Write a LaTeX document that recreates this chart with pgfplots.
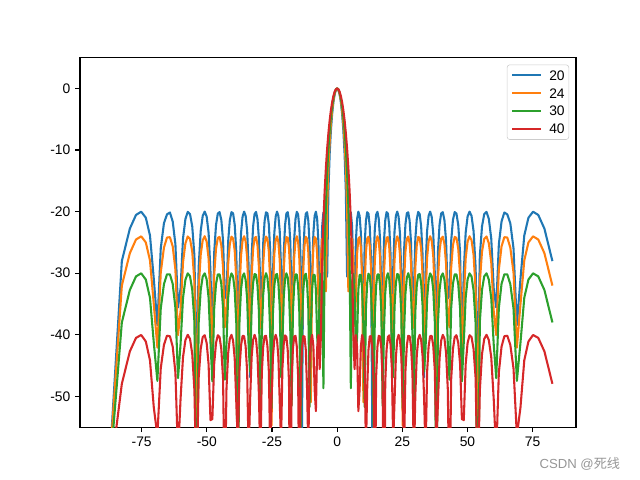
\documentclass[border=0pt]{standalone}
\usepackage{fontspec}
\setmainfont{Liberation Sans}
\newfontfamily\cjk{Noto Sans CJK SC}
\usepackage{pgfplots}
\usepackage{pgfplotstable}
\pgfplotsset{compat=1.18}
\definecolor{c0}{HTML}{1F77B4}
\definecolor{c1}{HTML}{FF7F0E}
\definecolor{c2}{HTML}{2CA02C}
\definecolor{c3}{HTML}{D62728}
\pgfplotstableread{
x a b c d
-90 -80 -78 -77 -73
-82.598 -28.04 -32.02 -38.00 -47.96
-79.525 -22.76 -26.75 -32.73 -42.69
-77.162 -20.54 -24.53 -30.52 -40.50
-75.165 -20.02 -24.02 -30.02 -40.03
-73.402 -20.99 -25.00 -31.03 -41.08
-71.805 -23.87 -27.91 -33.98 -44.13
-70.333 -30.94 -35.07 -41.31 -51.82
-68.961 -38.44 -42.08 -47.49 -56.37
-67.668 -25.96 -29.88 -35.73 -45.44
-66.444 -21.89 -25.85 -31.78 -41.64
-65.276 -20.45 -24.21 -30.19 -40.15
-64.158 -20.14 -24.15 -30.18 -40.23
-63.082 -21.60 -25.64 -31.73 -41.92
-62.046 -25.29 -29.41 -35.63 -46.11
-61.044 -35.56 -40.06 -47.04 -59.51
-60.073 -32.47 -36.12 -41.53 -50.42
-59.130 -24.38 -28.26 -34.05 -43.64
-58.211 -21.21 -25.15 -31.06 -40.87
-57.316 -20.05 -24.04 -30.02 -40.00
-56.443 -20.40 -24.43 -30.50 -40.66
-55.588 -22.39 -26.49 -32.68 -43.10
-54.752 -27.15 -31.41 -37.89 -49.00
-53.933 -46.62 -53.97 -75.50 -66.12
-53.130 -29.04 -32.68 -38.10 -47.02
-52.341 -23.15 -27.01 -32.77 -42.30
-51.566 -20.69 -24.63 -30.53 -40.36
-50.805 -20.00 -24.00 -30.02 -40.07
-50.055 -20.80 -24.87 -31.01 -41.34
-49.317 -23.42 -27.61 -33.95 -44.75
-48.590 -29.72 -34.24 -41.25 -53.85
-47.873 -42.48 -44.37 -47.58 -53.69
-47.166 -26.66 -30.31 -35.74 -44.70
-46.469 -22.18 -26.03 -31.78 -41.32
-45.780 -20.32 -24.27 -30.19 -40.07
-45.099 -20.08 -24.11 -30.18 -40.37
-44.427 -21.36 -25.49 -31.74 -42.35
-43.762 -24.74 -29.06 -35.67 -47.15
-43.104 -33.64 -38.79 -47.29 -67.75
-42.454 -34.09 -37.00 -41.37 -48.78
-41.810 -24.87 -28.54 -33.99 -43.00
-41.173 -21.41 -25.26 -31.02 -40.61
-40.541 -20.09 -24.06 -30.02 -40.01
-39.916 -20.30 -24.38 -30.53 -40.94
-39.296 -22.11 -26.34 -32.77 -43.83
-38.682 -26.51 -31.05 -38.13 -51.03
-38.073 -41.55 -49.92 -71.90 -57.76
-37.469 -29.92 -33.09 -37.81 -45.71
-36.870 -23.49 -27.16 -32.64 -41.74
-36.275 -20.82 -24.69 -30.48 -40.17
-35.685 -20.00 -24.00 -30.03 -40.21
-35.100 -20.68 -24.82 -31.11 -41.88
-34.518 -23.13 -27.49 -34.20 -46.06
-33.941 -28.97 -33.95 -42.04 -59.60
-33.367 -46.90 -45.27 -45.98 -50.28
-32.797 -27.15 -30.44 -35.33 -43.54
-32.231 -22.38 -26.07 -31.59 -40.82
-31.668 -20.39 -24.28 -30.13 -40.00
-31.109 -20.05 -24.11 -30.25 -40.74
-30.553 -21.24 -25.48 -31.99 -43.37
-30.000 -24.47 -29.07 -36.28 -49.83
-29.450 -32.81 -38.89 -50.63 -60.93
-28.903 -34.99 -36.84 -40.04 -46.25
-28.359 -25.11 -28.46 -33.48 -41.94
-27.818 -21.51 -25.22 -30.80 -40.22
-27.279 -20.11 -24.05 -30.00 -40.17
-26.744 -20.27 -24.41 -30.74 -41.76
-26.210 -22.04 -26.46 -33.33 -45.85
-25.679 -26.36 -31.38 -39.65 -58.90
-25.151 -40.85 -54.71 -51.94 -50.37
-24.624 -30.04 -32.54 -36.46 -43.52
-24.100 -23.51 -26.92 -32.04 -40.78
-23.578 -20.82 -24.58 -30.26 -40.00
-23.058 -20.00 -24.01 -30.13 -40.83
-22.540 -20.70 -24.98 -31.62 -43.65
-22.024 -23.20 -27.91 -35.47 -50.85
-21.510 -29.25 -35.26 -46.89 -57.39
-20.998 -44.39 -41.25 -41.32 -45.46
-20.487 -26.83 -29.60 -33.88 -41.55
-19.978 -22.22 -25.68 -30.94 -40.10
-19.471 -20.32 -24.15 -30.01 -40.35
-18.966 -20.09 -24.23 -30.66 -42.42
-18.462 -21.42 -25.96 -33.21 -47.69
-17.959 -24.97 -30.28 -39.53 -80.20
-17.458 -34.71 -45.09 -51.56 -47.30
-16.958 -32.82 -33.77 -36.25 -42.23
-16.459 -24.40 -27.33 -31.89 -40.27
-15.962 -21.17 -24.72 -30.19 -40.17
-15.466 -20.04 -24.00 -30.21 -41.92
-14.971 -20.48 -24.88 -31.98 -46.68
-14.478 -22.69 -27.78 -36.56 -70.22
-13.985 -28.10 -35.19 -55.15 -47.72
-13.493 -55.73 -40.70 -38.60 -42.25
-13.003 -27.45 -29.30 -32.73 -40.23
-12.513 -22.40 -25.48 -30.43 -40.26
-12.025 -20.36 -24.08 -30.08 -42.44
-11.537 -20.09 -24.39 -31.55 -48.74
-11.050 -21.49 -26.59 -35.80 -58.78
-10.564 -25.34 -32.24 -51.72 -44.78
-10.079 -37.18 -50.95 -38.61 -40.89
-9.594 -30.68 -30.52 -32.49 -40.03
-9.110 -23.47 -25.83 -30.26 -41.86
-8.627 -20.69 -24.13 -30.26 -48.90
-8.144 -20.01 -24.39 -32.67 -52.39
-7.662 -21.18 -26.88 -40.33 -42.08
-7.181 -24.98 -34.20 -42.77 -40.03
-6.700 -37.98 -38.56 -32.84 -45.57
-6.219 -29.09 -27.70 -30.09 -40.12
-5.739 -22.39 -24.41 -31.45 -28.22
-5.259 -20.14 -24.40 -48.68 -21.49
-4.780 -20.69 -29.32 -27.51 -16.62
-4.301 -25.90 -32.95 -18.96 -12.82
-3.823 -30.56 -19.10 -13.66 -9.75
-3.344 -16.68 -12.84 -9.83 -7.25
-2.866 -10.68 -8.70 -6.90 -5.20
-2.388 -6.83 -5.72 -4.63 -3.54
-1.910 -4.13 -3.52 -2.89 -2.23
-1.432 -2.24 -1.93 -1.60 -1.24
-0.955 -0.97 -0.84 -0.70 -0.55
-0.477 -0.24 -0.21 -0.17 -0.14
0 0 0 0 0
0.477 -0.24 -0.21 -0.17 -0.14
0.955 -0.97 -0.84 -0.70 -0.55
1.432 -2.24 -1.93 -1.60 -1.24
1.910 -4.13 -3.52 -2.89 -2.23
2.388 -6.83 -5.72 -4.63 -3.54
2.866 -10.68 -8.70 -6.90 -5.20
3.344 -16.68 -12.84 -9.83 -7.25
3.823 -30.56 -19.10 -13.66 -9.75
4.301 -25.90 -32.95 -18.96 -12.82
4.780 -20.69 -29.32 -27.51 -16.62
5.259 -20.14 -24.40 -48.68 -21.49
5.739 -22.39 -24.41 -31.45 -28.22
6.219 -29.09 -27.70 -30.09 -40.12
6.700 -37.98 -38.56 -32.84 -45.57
7.181 -24.98 -34.20 -42.77 -40.03
7.662 -21.18 -26.88 -40.33 -42.08
8.144 -20.01 -24.39 -32.67 -52.39
8.627 -20.69 -24.13 -30.26 -48.90
9.110 -23.47 -25.83 -30.26 -41.86
9.594 -30.68 -30.52 -32.49 -40.03
10.079 -37.18 -50.95 -38.61 -40.89
10.564 -25.34 -32.24 -51.72 -44.78
11.050 -21.49 -26.59 -35.80 -58.78
11.537 -20.09 -24.39 -31.55 -48.74
12.025 -20.36 -24.08 -30.08 -42.44
12.513 -22.40 -25.48 -30.43 -40.26
13.003 -27.45 -29.30 -32.73 -40.23
13.493 -55.73 -40.70 -38.60 -42.25
13.985 -28.10 -35.19 -55.15 -47.72
14.478 -22.69 -27.78 -36.56 -70.22
14.971 -20.48 -24.88 -31.98 -46.68
15.466 -20.04 -24.00 -30.21 -41.92
15.962 -21.17 -24.72 -30.19 -40.17
16.459 -24.40 -27.33 -31.89 -40.27
16.958 -32.82 -33.77 -36.25 -42.23
17.458 -34.71 -45.09 -51.56 -47.30
17.959 -24.97 -30.28 -39.53 -80.20
18.462 -21.42 -25.96 -33.21 -47.69
18.966 -20.09 -24.23 -30.66 -42.42
19.471 -20.32 -24.15 -30.01 -40.35
19.978 -22.22 -25.68 -30.94 -40.10
20.487 -26.83 -29.60 -33.88 -41.55
20.998 -44.39 -41.25 -41.32 -45.46
21.510 -29.25 -35.26 -46.89 -57.39
22.024 -23.20 -27.91 -35.47 -50.85
22.540 -20.70 -24.98 -31.62 -43.65
23.058 -20.00 -24.01 -30.13 -40.83
23.578 -20.82 -24.58 -30.26 -40.00
24.100 -23.51 -26.92 -32.04 -40.78
24.624 -30.04 -32.54 -36.46 -43.52
25.151 -40.85 -54.71 -51.94 -50.37
25.679 -26.36 -31.38 -39.65 -58.90
26.210 -22.04 -26.46 -33.33 -45.85
26.744 -20.27 -24.41 -30.74 -41.76
27.279 -20.11 -24.05 -30.00 -40.17
27.818 -21.51 -25.22 -30.80 -40.22
28.359 -25.11 -28.46 -33.48 -41.94
28.903 -34.99 -36.84 -40.04 -46.25
29.450 -32.81 -38.89 -50.63 -60.93
30.000 -24.47 -29.07 -36.28 -49.83
30.553 -21.24 -25.48 -31.99 -43.37
31.109 -20.05 -24.11 -30.25 -40.74
31.668 -20.39 -24.28 -30.13 -40.00
32.231 -22.38 -26.07 -31.59 -40.82
32.797 -27.15 -30.44 -35.33 -43.54
33.367 -46.90 -45.27 -45.98 -50.28
33.941 -28.97 -33.95 -42.04 -59.60
34.518 -23.13 -27.49 -34.20 -46.06
35.100 -20.68 -24.82 -31.11 -41.88
35.685 -20.00 -24.00 -30.03 -40.21
36.275 -20.82 -24.69 -30.48 -40.17
36.870 -23.49 -27.16 -32.64 -41.74
37.469 -29.92 -33.09 -37.81 -45.71
38.073 -41.55 -49.92 -71.90 -57.76
38.682 -26.51 -31.05 -38.13 -51.03
39.296 -22.11 -26.34 -32.77 -43.83
39.916 -20.30 -24.38 -30.53 -40.94
40.541 -20.09 -24.06 -30.02 -40.01
41.173 -21.41 -25.26 -31.02 -40.61
41.810 -24.87 -28.54 -33.99 -43.00
42.454 -34.09 -37.00 -41.37 -48.78
43.104 -33.64 -38.79 -47.29 -67.75
43.762 -24.74 -29.06 -35.67 -47.15
44.427 -21.36 -25.49 -31.74 -42.35
45.099 -20.08 -24.11 -30.18 -40.37
45.780 -20.32 -24.27 -30.19 -40.07
46.469 -22.18 -26.03 -31.78 -41.32
47.166 -26.66 -30.31 -35.74 -44.70
47.873 -42.48 -44.37 -47.58 -53.69
48.590 -29.72 -34.24 -41.25 -53.85
49.317 -23.42 -27.61 -33.95 -44.75
50.055 -20.80 -24.87 -31.01 -41.34
50.805 -20.00 -24.00 -30.02 -40.07
51.566 -20.69 -24.63 -30.53 -40.36
52.341 -23.15 -27.01 -32.77 -42.30
53.130 -29.04 -32.68 -38.10 -47.02
53.933 -46.62 -53.97 -75.50 -66.12
54.752 -27.15 -31.41 -37.89 -49.00
55.588 -22.39 -26.49 -32.68 -43.10
56.443 -20.40 -24.43 -30.50 -40.66
57.316 -20.05 -24.04 -30.02 -40.00
58.211 -21.21 -25.15 -31.06 -40.87
59.130 -24.38 -28.26 -34.05 -43.64
60.073 -32.47 -36.12 -41.53 -50.42
61.044 -35.56 -40.06 -47.04 -59.51
62.046 -25.29 -29.41 -35.63 -46.11
63.082 -21.60 -25.64 -31.73 -41.92
64.158 -20.14 -24.15 -30.18 -40.23
65.276 -20.45 -24.21 -30.19 -40.15
66.444 -21.89 -25.85 -31.78 -41.64
67.668 -25.96 -29.88 -35.73 -45.44
68.961 -38.44 -42.08 -47.49 -56.37
70.333 -30.94 -35.07 -41.31 -51.82
71.805 -23.87 -27.91 -33.98 -44.13
73.402 -20.99 -25.00 -31.03 -41.08
75.165 -20.02 -24.02 -30.02 -40.03
77.162 -20.54 -24.53 -30.52 -40.50
79.525 -22.76 -26.75 -32.73 -42.69
82.598 -28.04 -32.02 -38.00 -47.96
}\pattern
\begin{document}
\begin{tikzpicture}
\useasboundingbox (0,0) rectangle (6.4in,4.8in);
\begin{axis}[
  at={(0.8in,0.528in)}, anchor=south west,
  scale only axis, width=4.96in, height=3.696in,
  xmin=-98.65, xmax=91.65, ymin=-55, ymax=5,
  xtick={-75,-50,-25,0,25,50,75},
  ytick={-50,-40,-30,-20,-10,0},
  minor tick num=0,
  tick align=outside, tick pos=left,
  major tick length=3.5pt,
  axis line style={line width=0.8pt},
  every tick/.style={black, line width=0.8pt},
  /pgf/number format/assume math mode=true,
  ticklabel style={font=\fontsize{10}{12}\selectfont},
  legend cell align=left,
  legend image code/.code={\draw[#1] (0pt,0pt) -- (21pt,0pt);},
  legend style={at={(1,1)}, anchor=north east, xshift=-5pt, yshift=-5pt,
    draw={rgb,255:red,204;green,204;blue,204}, rounded corners=2pt,
    font=\fontsize{10}{12}\selectfont, inner xsep=3pt, inner ysep=4pt,
    row sep=6pt, column sep=5pt,
    nodes={inner sep=0pt, text height=7pt, text depth=0pt}},
  every axis plot/.append style={line width=1.5pt, line join=round},
]
\addplot[c0] table[x=x, y=a] {\pattern};
\addlegendentry{20}
\addplot[c1] table[x=x, y=b] {\pattern};
\addlegendentry{24}
\addplot[c2] table[x=x, y=c] {\pattern};
\addlegendentry{30}
\addplot[c3] table[x=x, y=d] {\pattern};
\addlegendentry{40}
\end{axis}
\node[anchor=east, text={rgb,255:red,150;green,150;blue,150}, font=\fontsize{9.5}{11}\selectfont] at (6.25in,0.16in) {CSDN @{\cjk 死线}};
\end{tikzpicture}
\end{document}
